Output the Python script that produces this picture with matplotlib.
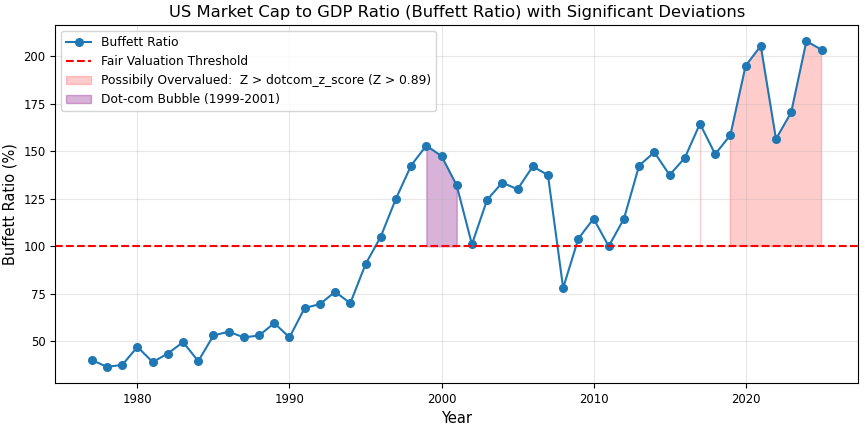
import matplotlib
matplotlib.use("Agg")
import matplotlib.pyplot as plt
import numpy as np

# Buffett ratio values
years = list(range(1977, 2026))
ratio = [40, 36.5, 37.5, 47, 39, 43.5, 49.5, 39.5, 53, 55, 52, 53, 59.5, 52,
         67.5, 69.5, 76, 70, 90.5, 105, 125, 142.5, 153, 147.5, 132, 101,
         124.5, 133.5, 130, 142, 137.5, 78, 104, 114.5, 100, 114.5, 142.5,
         149.5, 137.5, 146.5, 164.5, 148.5, 158.5, 195, 205.5, 156.5, 170.5,
         208, 203.5]
# years flagged as overvalued (Z > dotcom z-score)
overvalued_years = [2017, 2019, 2020, 2021, 2022, 2023, 2024, 2025]
dotcom_years = [1999, 2000, 2001]
threshold = 100

x = np.array(years)
y = np.array(ratio)
over_mask = np.isin(x, overvalued_years)
dot_mask = np.isin(x, dotcom_years)

fig, ax = plt.subplots(figsize=(8.65, 4.29), dpi=100)
ax.plot(x, y, marker='o', markersize=5.5, color='#1f77b4', label='Buffett Ratio')
ax.axhline(threshold, color='red', linestyle='--', label='Fair Valuation Threshold')
ax.fill_between(x, threshold, y, where=over_mask, color='red', alpha=0.2,
                label='Possibily Overvalued:  Z > dotcom_z_score (Z > 0.89)')
ax.fill_between(x, threshold, y, where=dot_mask, color='purple', alpha=0.3,
                label='Dot-com Bubble (1999-2001)')

ax.set_title('US Market Cap to GDP Ratio (Buffett Ratio) with Significant Deviations', fontsize=11.8)
ax.set_xlabel('Year', fontsize=10.5)
ax.set_ylabel('Buffett Ratio (%)', fontsize=10.5)
ax.tick_params(labelsize=8.4)
ax.grid(True, alpha=0.3)
ax.legend(loc='upper left', fontsize=8.8)

plt.subplots_adjust(left=0.064, right=0.992, top=0.942, bottom=0.107)
plt.savefig('out.png', dpi=100)
